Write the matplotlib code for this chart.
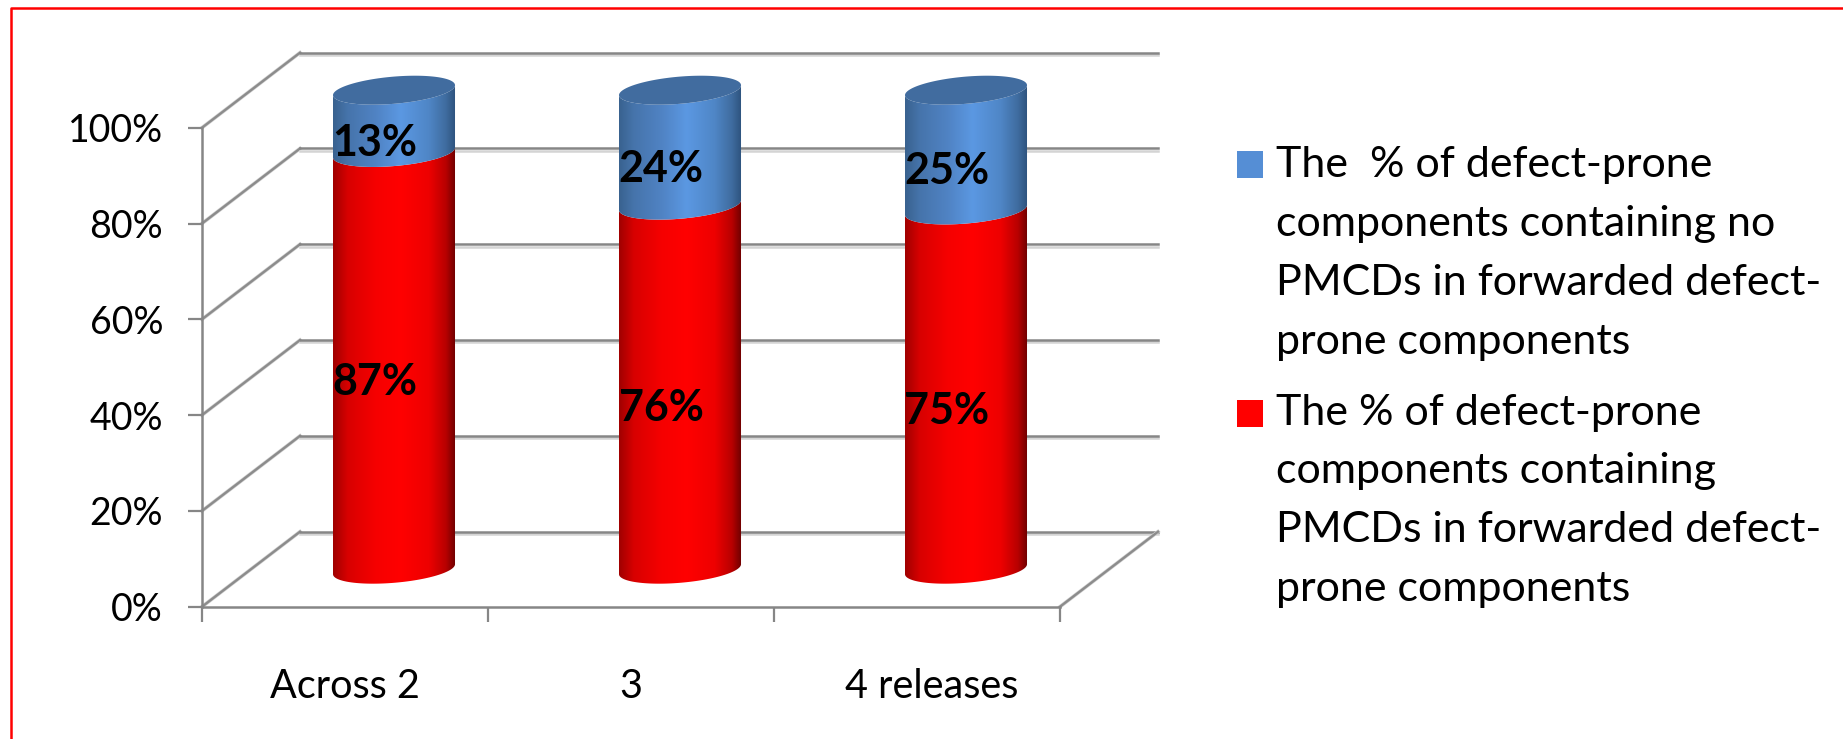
import numpy as np
import matplotlib
matplotlib.use("Agg")
import matplotlib.pyplot as plt
import matplotlib.patheffects as pe
from matplotlib.colors import LinearSegmentedColormap
from matplotlib.patches import Polygon, Rectangle
from matplotlib.transforms import Affine2D

plt.rcParams["font.family"] = ["Lato", "DejaVu Sans"]

categories = ["Across 2", "3", "4 releases"]
no_pmcd = [13, 24, 25]
with_pmcd = [87, 76, 75]
y_ticks = [0, 20, 40, 60, 80, 100]
no_pmcd_label = ["The  % of defect-prone", "components containing no",
                 "PMCDs in forwarded defect-", "prone components"]
with_pmcd_label = ["The % of defect-prone", "components containing",
                   "PMCDs in forwarded defect-", "prone components"]

W, H = 1843, 739
GRID = "#868686"

# depth of the 3d box, in data units
DEPTH_X = 0.3427
DEPTH_Y = 15.66
# cylinder shape, in data units
HALF_W = 0.2133
ELL_B = 2.84
ELL_TILT = 1.04

fig = plt.figure(figsize=(W / 100, H / 100), dpi=100, facecolor="white")
ax = fig.add_axes([202 / W, (H - 606.7) / H, 858 / W, 479 / H])
ax.set_xlim(0, 3)
ax.set_ylim(0, 100)
ax.patch.set_visible(False)

# pixel coordinates with the origin at the top left
px = Affine2D().scale(1 / W, -1 / H).translate(0, 1) + fig.transFigure

red_cmap = LinearSegmentedColormap.from_list("red_cyl", [
    (0, "#a00000"), (0.12, "#d80000"), (0.35, "#f60000"), (0.55, "#ff0000"),
    (0.78, "#ee0000"), (0.92, "#b80000"), (1, "#6c0000")])
blue_cmap = LinearSegmentedColormap.from_list("blue_cyl", [
    (0, "#39628f"), (0.12, "#4674ab"), (0.35, "#5083c4"), (0.55, "#5b98e2"),
    (0.78, "#4f86c6"), (0.92, "#3f6c9f"), (1, "#2d527c")])
shade = np.linspace(0, 1, 256).reshape(1, -1)


def front_arc(cx, y):
    t = np.linspace(0, np.pi, 80)
    return (cx + HALF_W * np.cos(t),
            y + ELL_TILT * np.cos(t) - ELL_B * np.sin(t))


def cylinder_part(cx, y0, y1, cmap):
    x_low, y_low = front_arc(cx, y0)
    x_up, y_up = front_arc(cx, y1)
    outline = np.column_stack([np.r_[x_low, x_up[::-1]], np.r_[y_low, y_up[::-1]]])
    patch = Polygon(outline, closed=True, transform=ax.transData, fc="none", ec="none")
    ax.add_patch(patch)
    im = ax.imshow(shade, cmap=cmap, aspect="auto", zorder=3, interpolation="bilinear",
                   extent=(cx - HALF_W, cx + HALF_W, y0 - ELL_B - 2, y1 + ELL_B + 2))
    # the cylinders stick out of the axes box
    im.set_clip_box(fig.bbox)
    im.set_clip_path(patch)


# walls and floor grid
shadow = [pe.SimpleLineShadow(offset=(0, -1.6), shadow_color="#d4d4d4", alpha=1), pe.Normal()]
halo = [pe.withStroke(linewidth=2.6, foreground="#d0d0d0")]
for tick in y_ticks:
    ax.plot([0, DEPTH_X], [tick, tick + DEPTH_Y], color="#8c8c8c", lw=1.7,
            clip_on=False, zorder=1, path_effects=halo)
    ax.plot([DEPTH_X, 3 + DEPTH_X], [tick + DEPTH_Y, tick + DEPTH_Y], color=GRID, lw=1.8,
            clip_on=False, zorder=1, path_effects=shadow)
ax.plot([3, 3 + DEPTH_X], [0, DEPTH_Y], color="#8c8c8c", lw=1.7, clip_on=False, zorder=1,
        path_effects=halo)

# stacked cylinders, sitting halfway into the box
for i, (low, high) in enumerate(zip(with_pmcd, no_pmcd)):
    cx = i + 0.5 + DEPTH_X / 2
    base = DEPTH_Y / 2
    cylinder_part(cx, base, base + low, red_cmap)
    cylinder_part(cx, base + low, base + low + high, blue_cmap)
    t = np.linspace(0, 2 * np.pi, 160)
    top = base + low + high
    ax.fill(cx + HALF_W * np.cos(t), top + ELL_TILT * np.cos(t) + ELL_B * np.sin(t),
            color="#416c9f", lw=0, zorder=3, clip_on=False)
    # value labels
    lx = i + 0.5 + 0.105
    ax.text(lx, low / 2 + 3.4, f"{low}%", ha="center", va="center", fontsize=31,
            fontweight="bold", color="black", zorder=5)
    ax.text(lx, low + high / 2 + 3.4, f"{high}%", ha="center", va="center", fontsize=31,
            fontweight="bold", color="black", zorder=5)

ax.set_xlim(0, 3)
ax.set_ylim(0, 100)

for side in ("top", "right"):
    ax.spines[side].set_visible(False)
for side in ("left", "bottom"):
    ax.spines[side].set_color(GRID)
    ax.spines[side].set_linewidth(1.8)
    ax.spines[side].set_zorder(2)

ax.set_yticks(y_ticks, [f"{v}%" for v in y_ticks])
ax.tick_params(axis="y", length=10, width=1.6, color=GRID, labelsize=27, pad=18)
ax.set_xticks([0, 1, 2, 3], [])
ax.tick_params(axis="x", which="major", length=11, width=1.6, color=GRID)
ax.set_xticks([0.5, 1.5, 2.55], categories, minor=True)
ax.tick_params(axis="x", which="minor", length=0, labelsize=28.5, pad=44)

# legend
for lines, color, y0, base in ((no_pmcd_label, "#558ed5", 151, 177),
                               (with_pmcd_label, "#ff0000", 399.5, 424.5)):
    fig.add_artist(Rectangle((1236.5, y0), 26.5, 27, fc=color, ec="none", transform=px))
    for n, line in enumerate(lines):
        fig.text(1276, base + 59 * n, line, transform=px, fontsize=31,
                 ha="left", va="baseline", color="black")

# frame, only top and left are there
fig.add_artist(plt.Line2D([10.5, 10.5, W], [H, 8, 8], color="#ff0000", lw=1.8, transform=px))

fig.savefig("out.png", dpi=100)
